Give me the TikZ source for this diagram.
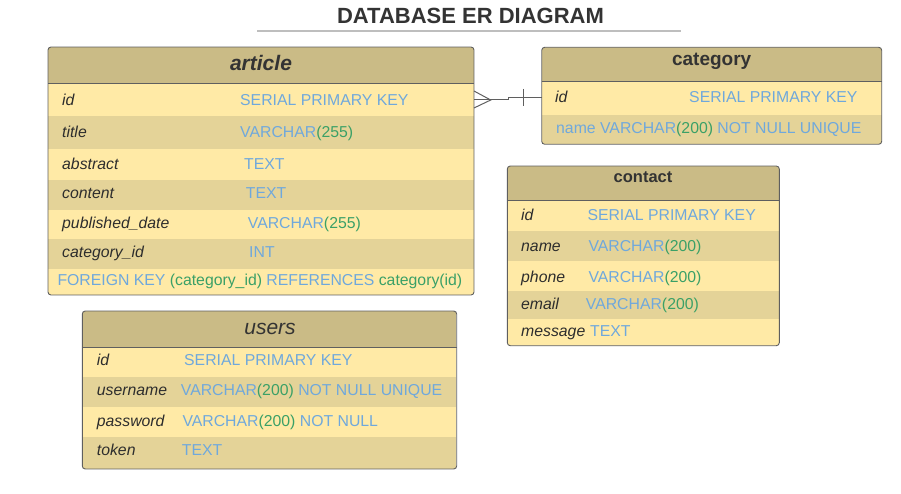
\documentclass[tikz,border=0pt]{standalone}
\usepackage{fontspec}
\setmainfont{Liberation Sans}
\usetikzlibrary{calc, positioning}

\definecolor{hdrtan}{RGB}{202,187,134}
\definecolor{rowlight}{RGB}{255,234,166}
\definecolor{rowdark}{RGB}{228,211,152}
\definecolor{edgegray}{RGB}{95,95,95}
\definecolor{rulegray}{RGB}{190,190,190}
\definecolor{titletext}{RGB}{51,51,51}
\definecolor{fieldtext}{RGB}{45,45,45}
\definecolor{typeblue}{RGB}{111,168,220}
\definecolor{numgreen}{RGB}{58,160,103}

\newcommand{\sqlnum}[1]{\textcolor{numgreen}{#1}}

\begin{document}
\begin{tikzpicture}[
    x=1pt, y=-1pt,
    tbl/.style={draw=edgegray, line width=0.9pt, rounded corners=3pt},
    sep/.style={draw=edgegray, line width=0.9pt},
    hdr/.style={anchor=base, inner sep=0pt, text=titletext},
    fld/.style={anchor=base west, inner sep=0pt, text=fieldtext, font=\fontsize{15.8}{18}\selectfont\itshape},
    typ/.style={anchor=base west, inner sep=0pt, text=typeblue, font=\fontsize{15.8}{18}\selectfont},
    conn/.style={draw=edgegray, line width=1pt},
]

    \useasboundingbox (0,0) rectangle (901,494);

    % title
    \node[hdr, font=\fontsize{22}{24}\selectfont\bfseries] (title) at (470.5,23.3) {DATABASE ER DIAGRAM};
    \draw[rulegray, line width=1.3pt] (257,31) -- (681,31);

    % article
    \begin{scope}
        \clip[rounded corners=3pt] (48,47) rectangle (474,295);
        \fill[rowlight] (48,47) rectangle (474,295);
        \fill[hdrtan] (48,47) rectangle (474,83.5);
        \foreach \ya/\yb in {116/149, 180/210, 239/269}
            \fill[rowdark] (48,\ya) rectangle (474,\yb);
    \end{scope}
    \draw[sep] (48,83.5) -- (474,83.5);
    \draw[tbl] (48,47) rectangle (474,295);
    \node[hdr, font=\fontsize{21}{24}\selectfont\bfseries\itshape] (article) at (261,70.7) {article};

    \node[fld] (art-id)    at (62,105.5) {id};
    \node[typ] (art-idt)   at (240,105.5) {SERIAL PRIMARY KEY};
    \node[fld] (art-ti)    at (62,137.5) {title};
    \node[typ] (art-tit)   at (240,137.5) {VARCHAR\sqlnum{(255)}};
    \node[fld] (art-ab)    at (62,169.5) {abstract};
    \node[typ] (art-abt)   at (244,169.5) {TEXT};
    \node[fld] (art-co)    at (62,198.3) {content};
    \node[typ] (art-cot)   at (245.7,198.3) {TEXT};
    \node[fld] (art-pd)    at (62,229) {published\_date};
    \node[typ] (art-pdt)   at (247.7,229) {VARCHAR\sqlnum{(255)}};
    \node[fld] (art-ci)    at (62,257.3) {category\_id};
    \node[typ] (art-cit)   at (249,257.3) {INT};
    \node[typ] (art-fk)    at (57.3,285.7) {FOREIGN KEY \sqlnum{(category\_id)} REFERENCES \sqlnum{category(id)}};

    % category
    \begin{scope}
        \clip[rounded corners=3pt] (541.7,47.3) rectangle (881.7,144.3);
        \fill[rowlight] (541.7,47.3) rectangle (881.7,144.3);
        \fill[hdrtan] (541.7,47.3) rectangle (881.7,81.7);
        \fill[rowdark] (541.7,115) rectangle (881.7,144.3);
    \end{scope}
    \draw[sep] (541.7,81.7) -- (881.7,81.7);
    \draw[tbl] (541.7,47.3) rectangle (881.7,144.3);
    \node[hdr, font=\fontsize{19}{22}\selectfont\bfseries] (category) at (711.7,66) {category};

    \node[fld] (cat-id)    at (555,102.7) {id};
    \node[typ] (cat-idt)   at (689,102.7) {SERIAL PRIMARY KEY};
    \node[typ] (cat-nm)    at (556,133.3) {name VARCHAR\sqlnum{(200)} NOT NULL UNIQUE};

    % contact
    \begin{scope}
        \clip[rounded corners=3pt] (507.3,166) rectangle (779.3,345.7);
        \fill[rowlight] (507.3,166) rectangle (779.3,345.7);
        \fill[hdrtan] (507.3,166) rectangle (779.3,200.7);
        \foreach \ya/\yb in {230.7/260.7, 290.7/319.3}
            \fill[rowdark] (507.3,\ya) rectangle (779.3,\yb);
    \end{scope}
    \draw[sep] (507.3,200.7) -- (779.3,200.7);
    \draw[tbl] (507.3,166) rectangle (779.3,345.7);
    \node[hdr, font=\fontsize{16.5}{20}\selectfont\bfseries] (contact) at (643,182.7) {contact};

    \node[fld] (con-id)    at (521,220.7) {id};
    \node[typ] (con-idt)   at (587.3,220.7) {SERIAL PRIMARY KEY};
    \node[fld] (con-nm)    at (521,251.7) {name};
    \node[typ] (con-nmt)   at (588.3,251.7) {VARCHAR\sqlnum{(200)}};
    \node[fld] (con-ph)    at (521,282) {phone};
    \node[typ] (con-pht)   at (588.3,282) {VARCHAR\sqlnum{(200)}};
    \node[fld] (con-em)    at (521,309.3) {email};
    \node[typ] (con-emt)   at (585.7,309.3) {VARCHAR\sqlnum{(200)}};
    \node[fld] (con-ms)    at (521,336) {message};
    \node[typ] (con-mst)   at (590,336) {TEXT};

    % users
    \begin{scope}
        \clip[rounded corners=3pt] (82.3,311) rectangle (456.7,469);
        \fill[rowlight] (82.3,311) rectangle (456.7,469);
        \fill[hdrtan] (82.3,311) rectangle (456.7,347.7);
        \foreach \ya/\yb in {377.3/407.3, 437.3/469}
            \fill[rowdark] (82.3,\ya) rectangle (456.7,\yb);
    \end{scope}
    \draw[sep] (82.3,347.7) -- (456.7,347.7);
    \draw[tbl] (82.3,311) rectangle (456.7,469);
    \node[hdr, font=\fontsize{21}{24}\selectfont\itshape] (users) at (270,334.3) {users};

    \node[fld] (usr-id)    at (96.7,365) {id};
    \node[typ] (usr-idt)   at (184,365) {SERIAL PRIMARY KEY};
    \node[fld] (usr-un)    at (96.7,395.7) {username};
    \node[typ] (usr-unt)   at (180.7,395.7) {VARCHAR\sqlnum{(200)} NOT NULL UNIQUE};
    \node[fld] (usr-pw)    at (96.7,426) {password};
    \node[typ] (usr-pwt)   at (182.3,426) {VARCHAR\sqlnum{(200)} NOT NULL};
    \node[fld] (usr-tk)    at (96.7,455.7) {token};
    \node[typ] (usr-tkt)   at (181.7,455.7) {TEXT};

    % many-to-one: article.category_id -> category.id
    \coordinate (artend) at (474,100);
    \coordinate (catend) at (541.7,97.7);
    \draw[conn] ($(artend)+(0,-9)$) -- ($(artend)+(16.7,0)$) -- ($(artend)+(0,8)$);
    \draw[conn] (artend) -- ++(34,0) |- (catend);
    \draw[conn] ($(catend)+(-18.4,-8.7)$) -- ($(catend)+(-18.4,8.3)$);
\end{tikzpicture}
\end{document}
